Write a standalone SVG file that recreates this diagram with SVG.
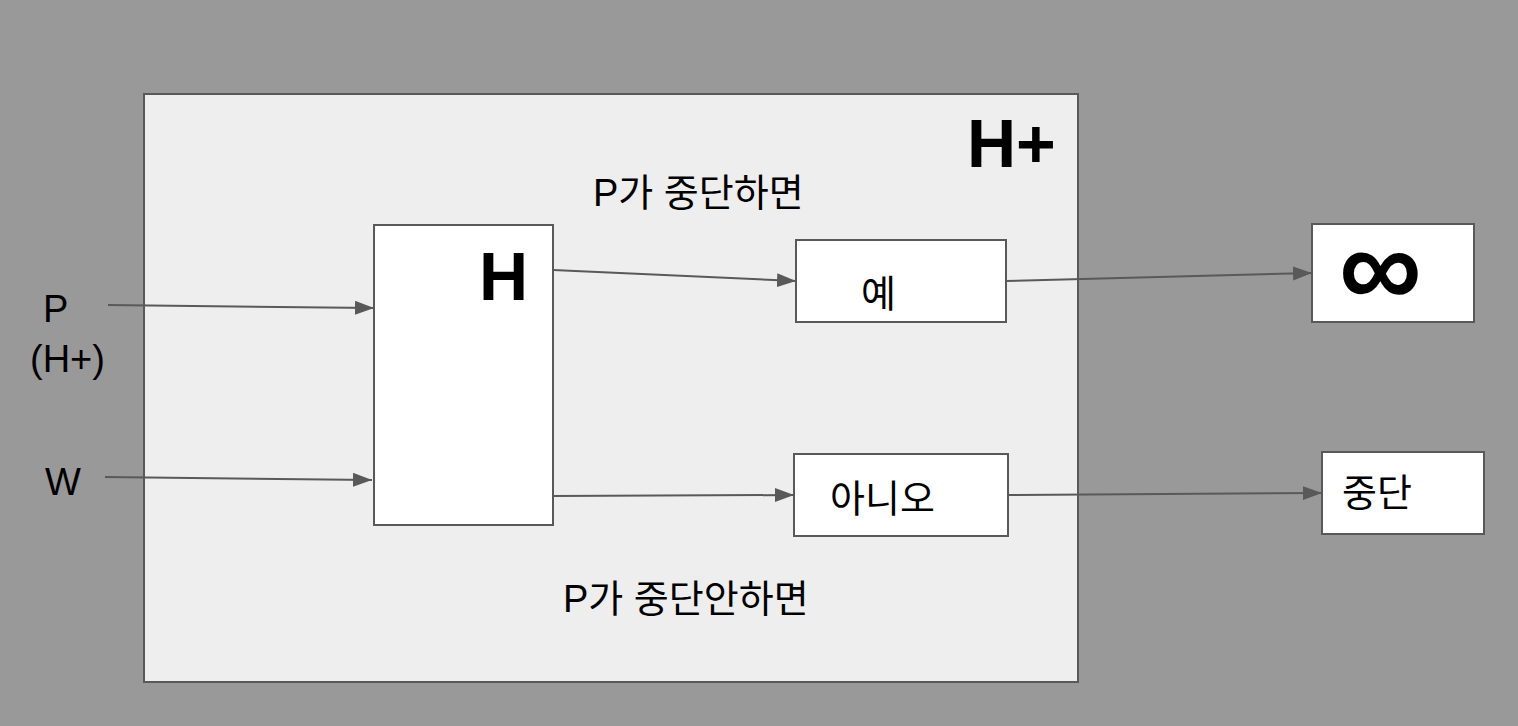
<svg xmlns="http://www.w3.org/2000/svg" width="1518" height="726" viewBox="0 0 1518 726">
<style>
.box{fill:#ffffff;stroke:#595959;stroke-width:2}
.t{font-family:"Liberation Sans","Noto Sans CJK KR",sans-serif;font-size:38px;fill:#000}
.b{font-family:"Liberation Sans",sans-serif;font-weight:bold;fill:#000}
.c{stroke:#595959;stroke-width:2;fill:none}
</style>
<defs>
<marker id="ah" markerUnits="userSpaceOnUse" markerWidth="20" markerHeight="16" refX="19" refY="7" orient="auto">
<path d="M0,0 L19,7 L0,14 Z" fill="#595959"/>
</marker>
</defs>
<rect x="0" y="0" width="1518" height="726" fill="#999999"/>
<g id="outer">
<rect x="144" y="94" width="934" height="588" fill="#eeeeee" stroke="#595959" stroke-width="2"/>
<text class="b" x="967" y="167" font-size="68">H+</text>
<text class="t" x="593" y="206">P가 중단하면</text>
<text class="t" x="563" y="612">P가 중단안하면</text>
</g>
<g id="inputs">
<text class="t" x="43" y="322" font-size="39">P</text>
<text class="t" x="30" y="372" font-size="39">(H+)</text>
<text class="t" x="45" y="495" font-size="39">W</text>
</g>
<g id="H">
<rect class="box" x="374" y="225" width="179" height="300"/>
<text class="b" x="479" y="300" font-size="68">H</text>
</g>
<g id="yes">
<rect class="box" x="796" y="240" width="210" height="82"/>
<text class="t" x="861" y="307">예</text>
</g>
<g id="no">
<rect class="box" x="794" y="454" width="214" height="82"/>
<text class="t" x="830" y="512">아니오</text>
</g>
<g id="inf">
<rect class="box" x="1312" y="224" width="162" height="98"/>
<text class="b" x="1339" y="307" font-size="116">∞</text>
</g>
<g id="halt">
<rect class="box" x="1322" y="452" width="162" height="82"/>
<text class="t" x="1342" y="506">중단</text>
</g>
<g id="connectors">
<line class="c" x1="108" y1="305" x2="374" y2="308" marker-end="url(#ah)"/>
<line class="c" x1="105" y1="477" x2="372" y2="480" marker-end="url(#ah)"/>
<line class="c" x1="553" y1="270" x2="796" y2="281" marker-end="url(#ah)"/>
<line class="c" x1="553" y1="496" x2="794" y2="495" marker-end="url(#ah)"/>
<line class="c" x1="1006" y1="281" x2="1312" y2="273" marker-end="url(#ah)"/>
<line class="c" x1="1008" y1="495" x2="1322" y2="493" marker-end="url(#ah)"/>
</g>
</svg>
